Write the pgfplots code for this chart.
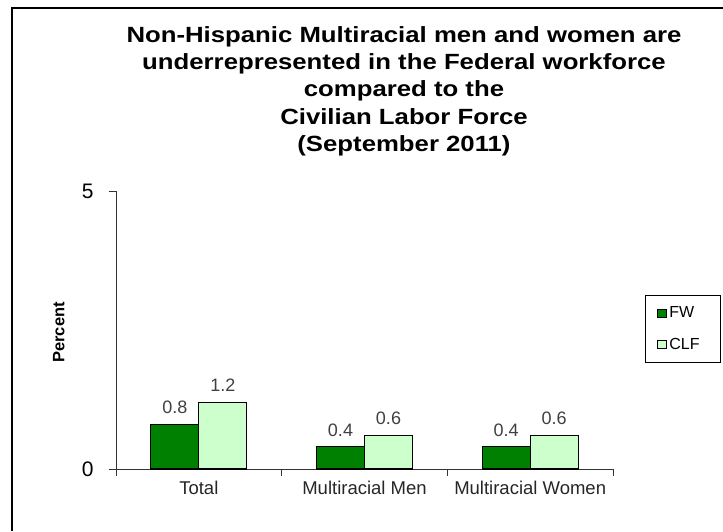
\documentclass[border=0pt]{standalone}
\usepackage{pgfplots}
\pgfplotsset{compat=1.18}
\usepackage{fontspec}
\setmainfont{Liberation Sans}
\newfontfamily\titlefont[FakeStretch=1.17]{Liberation Sans}
\definecolor{fwgreen}{HTML}{008000}
\definecolor{clfgreen}{HTML}{CCFFCC}
\begin{document}
\begin{tikzpicture}[x=1pt,y=1pt]
\path[use as bounding box] (0,0) rectangle (723,531);
\draw[line width=2.7pt] (12,0) -- (12,523) -- (723,523);
\begin{scope}[font=\titlefont\bfseries\fontsize{22}{24}\selectfont]
\node[anchor=base] at (404,488) {Non-Hispanic Multiracial men and women are};
\node[anchor=base] at (404,461) {underrepresented in the Federal workforce};
\node[anchor=base] at (404,434) {compared to the};
\node[anchor=base] at (404,406.5) {Civilian Labor Force};
\node[anchor=base] at (404,379) {(September 2011)};
\end{scope}
\begin{axis}[
  at={(116pt,62pt)}, anchor=south west,
  scale only axis, width=497pt, height=278pt,
  xmin=-0.5, xmax=2.5, ymin=0, ymax=5,
  axis lines=left,
  axis line style={-, black!80, line width=0.8pt},
  every tick/.style={black!80, line width=0.8pt},
  tick align=outside, major tick length=7pt,
  xtick={-0.5,0.5,1.5,2.5},
  x tick label as interval,
  xticklabels={Total,Multiracial Men,Multiracial Women,},
  xticklabel style={font=\fontsize{18.5}{20}\selectfont, text=black!85, yshift=-1.5pt},
  ytick={0,5},
  yticklabel style={font=\fontsize{21}{23}\selectfont, xshift=-12pt},
  /pgf/number format/assume math mode=true,
  ylabel={Percent},
  ylabel style={at={(axis description cs:-0.115,0.491)}, anchor=center,
    font=\bfseries\fontsize{16.5}{18}\selectfont},
  ybar=0pt, bar width=48pt,
  nodes near coords,
  every node near coord/.append style={font=\fontsize{18}{20}\selectfont, text=black!75, yshift=6.5pt},
  nodes near coords={\pgfmathprintnumber[fixed,precision=1,fixed zerofill]{\pgfplotspointmeta}},
  legend style={at={(1.064,0.626)}, anchor=north west, draw=black, line width=0.8pt,
    inner xsep=12pt, inner ysep=9.5pt, row sep=15pt,
    font=\fontsize{16}{18}\selectfont, nodes={inner sep=2pt}},
  legend cell align=left,
  legend image code/.code={\draw[#1, line width=1.2pt] (0pt,-4pt) rectangle (9pt,4pt);},
]
\addplot[draw=black, line width=1.3pt, fill=fwgreen] coordinates {(0,0.8) (1,0.4) (2,0.4)};
\addplot[draw=black, line width=1.3pt, fill=clfgreen] coordinates {(0,1.2) (1,0.6) (2,0.6)};
\legend{\makebox[37pt][l]{FW},\makebox[37pt][l]{CLF}}
\end{axis}
\end{tikzpicture}
\end{document}
